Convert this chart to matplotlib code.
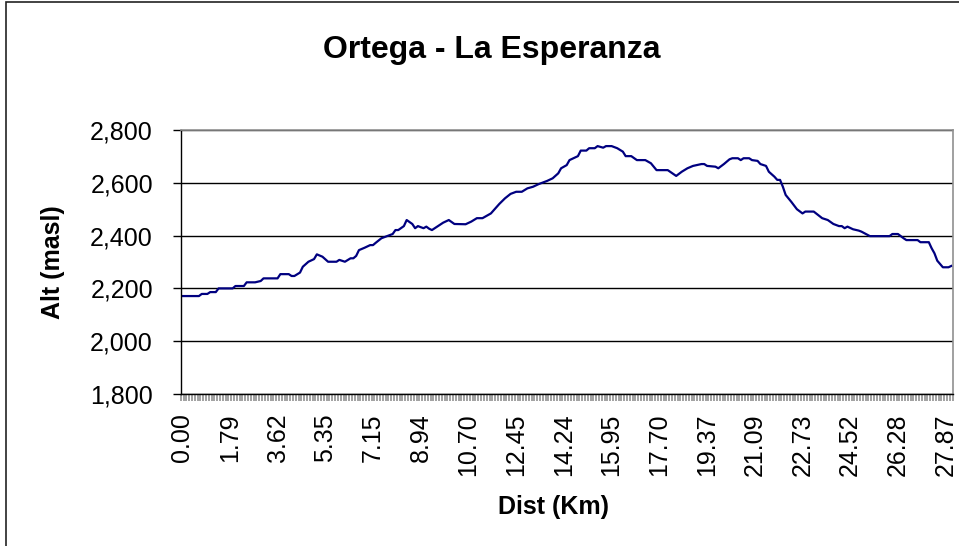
# Elevation profile: Ortega - La Esperanza
import numpy as np
import matplotlib.pyplot as plt
from matplotlib.patches import Rectangle
from matplotlib.ticker import FixedLocator, MultipleLocator, FuncFormatter

plt.rcParams['font.family'] = ['Liberation Sans', 'DejaVu Sans']

# category labels (Km) shown every 17th point, 275 points in total
n_points = 275
label_step = 17
dist_labels = ['0.00', '1.79', '3.62', '5.35', '7.15', '8.94', '10.70', '12.45',
               '14.24', '15.95', '17.70', '19.37', '21.09', '22.73', '24.52',
               '26.28', '27.87']

# point number along the track and altitude (masl)
point = [0, 6, 7, 9, 10, 12, 13, 18, 19, 22, 23, 26, 28, 29, 34, 35, 38, 39,
         40, 42, 43, 45, 47, 48, 50, 52, 55, 56, 58, 60, 61, 62, 63, 65, 67,
         68, 69, 71, 73, 75, 76, 77, 79, 80, 82, 83, 84, 86, 87, 88, 89, 93,
         95, 97, 101, 103, 105, 107, 110, 113, 115, 117, 119, 121, 123, 125,
         127, 130, 132, 134, 135, 137, 138, 141, 142, 144, 145, 147, 148, 150,
         151, 153, 155, 157, 158, 160, 162, 165, 167, 169, 173, 175, 176, 178,
         180, 182, 185, 186, 187, 190, 191, 193, 195, 196, 198, 199, 200, 202,
         203, 205, 206, 208, 209, 211, 212, 213, 214, 215, 217, 219, 221, 222,
         225, 227, 228, 230, 232, 234, 235, 236, 237, 239, 241, 242, 245, 252,
         253, 255, 257, 258, 262, 263, 266, 267, 268, 269, 271, 273, 274]
alt = [2171, 2171, 2179, 2179, 2186, 2186, 2200, 2200, 2209, 2209, 2223, 2223,
       2228, 2238, 2238, 2254, 2254, 2247, 2247, 2260, 2282, 2301, 2311, 2329,
       2320, 2301, 2301, 2308, 2301, 2314, 2314, 2323, 2345, 2354, 2364, 2364,
       2373, 2390, 2398, 2406, 2421, 2421, 2436, 2459, 2444, 2428, 2436, 2428,
       2434, 2426, 2421, 2449, 2459, 2444, 2443, 2453, 2466, 2466, 2484, 2520,
       2541, 2558, 2566, 2566, 2579, 2585, 2595, 2607, 2617, 2636, 2655, 2667,
       2686, 2701, 2722, 2722, 2731, 2731, 2739, 2733, 2739, 2739, 2731, 2718,
       2701, 2701, 2686, 2686, 2674, 2648, 2648, 2633, 2626, 2642, 2655, 2664,
       2671, 2671, 2664, 2661, 2655, 2671, 2689, 2693, 2693, 2686, 2693, 2693,
       2686, 2683, 2671, 2664, 2642, 2623, 2611, 2611, 2585, 2554, 2528, 2500,
       2484, 2491, 2491, 2474, 2466, 2459, 2444, 2436, 2436, 2428, 2434, 2424,
       2419, 2415, 2398, 2398, 2406, 2406, 2390, 2383, 2383, 2375, 2375, 2352,
       2333, 2305, 2280, 2280, 2285]

fig = plt.figure(figsize=(9.59, 5.46), dpi=100)

# outer chart border (open at right / bottom like the original crop)
fig.patches.append(Rectangle((6 / 959, -0.1), 1.2, 1.1 - 1.5 / 546,
                             transform=fig.transFigure, fill=False,
                             edgecolor='#222222', linewidth=1.2))

ax = fig.add_axes([180.7 / 959, 1 - 394 / 546, 772 / 959, 264 / 546])
ax.plot(point, alt, color='#000080', linewidth=1.6)

ax.set_xlim(-0.5, n_points - 0.5)
ax.set_ylim(1800, 2800)

# y axis
ax.yaxis.set_major_locator(MultipleLocator(200))
ax.yaxis.set_major_formatter(FuncFormatter(lambda v, p: f'{int(v):,}'))
ax.tick_params(axis='y', direction='out', length=6, width=1, pad=14,
               labelsize=18, colors='black')
ax.grid(axis='y', color='black', linewidth=1)
ax.set_axisbelow(True)

# x axis: one tick per category, label every 17th
ax.xaxis.set_major_locator(FixedLocator(np.arange(len(dist_labels)) * label_step))
ax.set_xticklabels(dist_labels, rotation=90)
ax.xaxis.set_minor_locator(FixedLocator(np.arange(n_points + 1) - 0.5))
ax.tick_params(axis='x', which='major', length=0, pad=14, labelsize=18)
ax.tick_params(axis='x', which='minor', direction='out', length=5, width=1.1,
               color='#888888')

for side in ['top', 'right']:
    ax.spines[side].set_color('#909090')
    ax.spines[side].set_linewidth(1.2)
for side in ['left', 'bottom']:
    ax.spines[side].set_color('black')
    ax.spines[side].set_linewidth(1)

fig.text(492 / 959, 1 - 58 / 546, 'Ortega - La Esperanza', ha='center',
         va='baseline', fontsize=23, fontweight='bold')
fig.text(553 / 959, 1 - 507 / 546, 'Dist (Km)', ha='center', va='center',
         fontsize=18, fontweight='bold')
fig.text(53 / 959, 1 - 262 / 546, 'Alt (masl)', ha='center', va='center',
         rotation=90, fontsize=18, fontweight='bold')

fig.savefig('out.png', dpi=100)
